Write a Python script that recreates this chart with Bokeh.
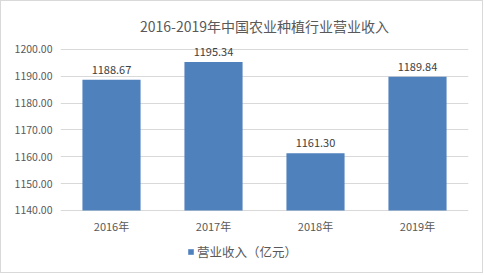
from bokeh.plotting import figure
from bokeh.models import ColumnDataSource, FactorRange, Range1d, LabelSet, Legend, LegendItem, NumeralTickFormatter, FixedTicker
from bokeh.embed import file_html
from bokeh.resources import INLINE
from bokeh.core.properties import value

years = ["2016年", "2017年", "2018年", "2019年"]
revenue = [1188.67, 1195.34, 1161.30, 1189.84]
revenue_labels = ["1188.67", "1195.34", "1161.30", "1189.84"]
title_text = "2016-2019年中国农业种植行业营业收入"
series_name = "营业收入（亿元）"
y_ticks = [1140, 1150, 1160, 1170, 1180, 1190, 1200]
y_base = 1140

FONT = "Noto Sans CJK SC"
BAR = "#4F81BD"

src = ColumnDataSource(dict(x=years, top=revenue, lab=revenue_labels, base=[y_base] * len(years)))

p = figure(frame_width=408, frame_height=237, x_range=FactorRange(*years, range_padding=0),
           y_range=Range1d(1116.9, 1205.2), output_backend="svg", toolbar_location=None,
           min_border_left=59, min_border_right=14, min_border_top=34, min_border_bottom=0,
           title=title_text)
p.styles = {"border": "1px solid #d9d9d9"}
p.outline_line_color = None
p.background_fill_color = "white"
p.border_fill_color = "white"

p.title.align = "center"
p.title.text_font = FONT
p.title.text_font_size = "14px"
p.title.text_font_style = "normal"
p.title.text_color = "#595959"
p.title.offset = 0
p.title.standoff = 0

r = p.vbar(x="x", top="top", bottom="base", width=0.57, source=src, color=BAR, line_color=None)

p.yaxis.ticker = FixedTicker(ticks=y_ticks)
p.yaxis.formatter = NumeralTickFormatter(format="0.00")
p.yaxis.axis_line_color = None
p.yaxis.major_tick_line_color = None
p.yaxis.minor_tick_line_color = None
p.yaxis.major_tick_out = 0
p.yaxis.minor_tick_out = 0
p.yaxis.major_label_text_font = FONT
p.yaxis.major_label_text_font_size = "10.5px"
p.yaxis.major_label_text_color = "#595959"
p.yaxis.major_label_standoff = 8

p.xaxis.visible = False
p.xgrid.grid_line_color = None
p.ygrid.grid_line_color = "#d9d9d9"

cat_labels = LabelSet(x="x", y="base", text="x", source=src, text_align="center", text_baseline="top",
                      y_offset=-8, text_font=value(FONT), text_font_size="11px", text_color="#595959")
p.add_layout(cat_labels)

labels = LabelSet(x="x", y="top", text="lab", source=src, text_align="center", text_baseline="bottom",
                  y_offset=6, text_font=value(FONT), text_font_size="11px", text_color="#404040")
p.add_layout(labels)

legend = Legend(items=[LegendItem(label=series_name, renderers=[r])], location=(127, 11),
                orientation="horizontal", border_line_color=None, background_fill_alpha=0,
                glyph_width=7, glyph_height=7, label_text_font=FONT, label_text_font_size="12.5px",
                label_text_color="#595959", label_standoff=3, padding=0, margin=0, label_height=12)
p.add_layout(legend, "center")

open("out.html", "w").write(file_html(p, INLINE))
